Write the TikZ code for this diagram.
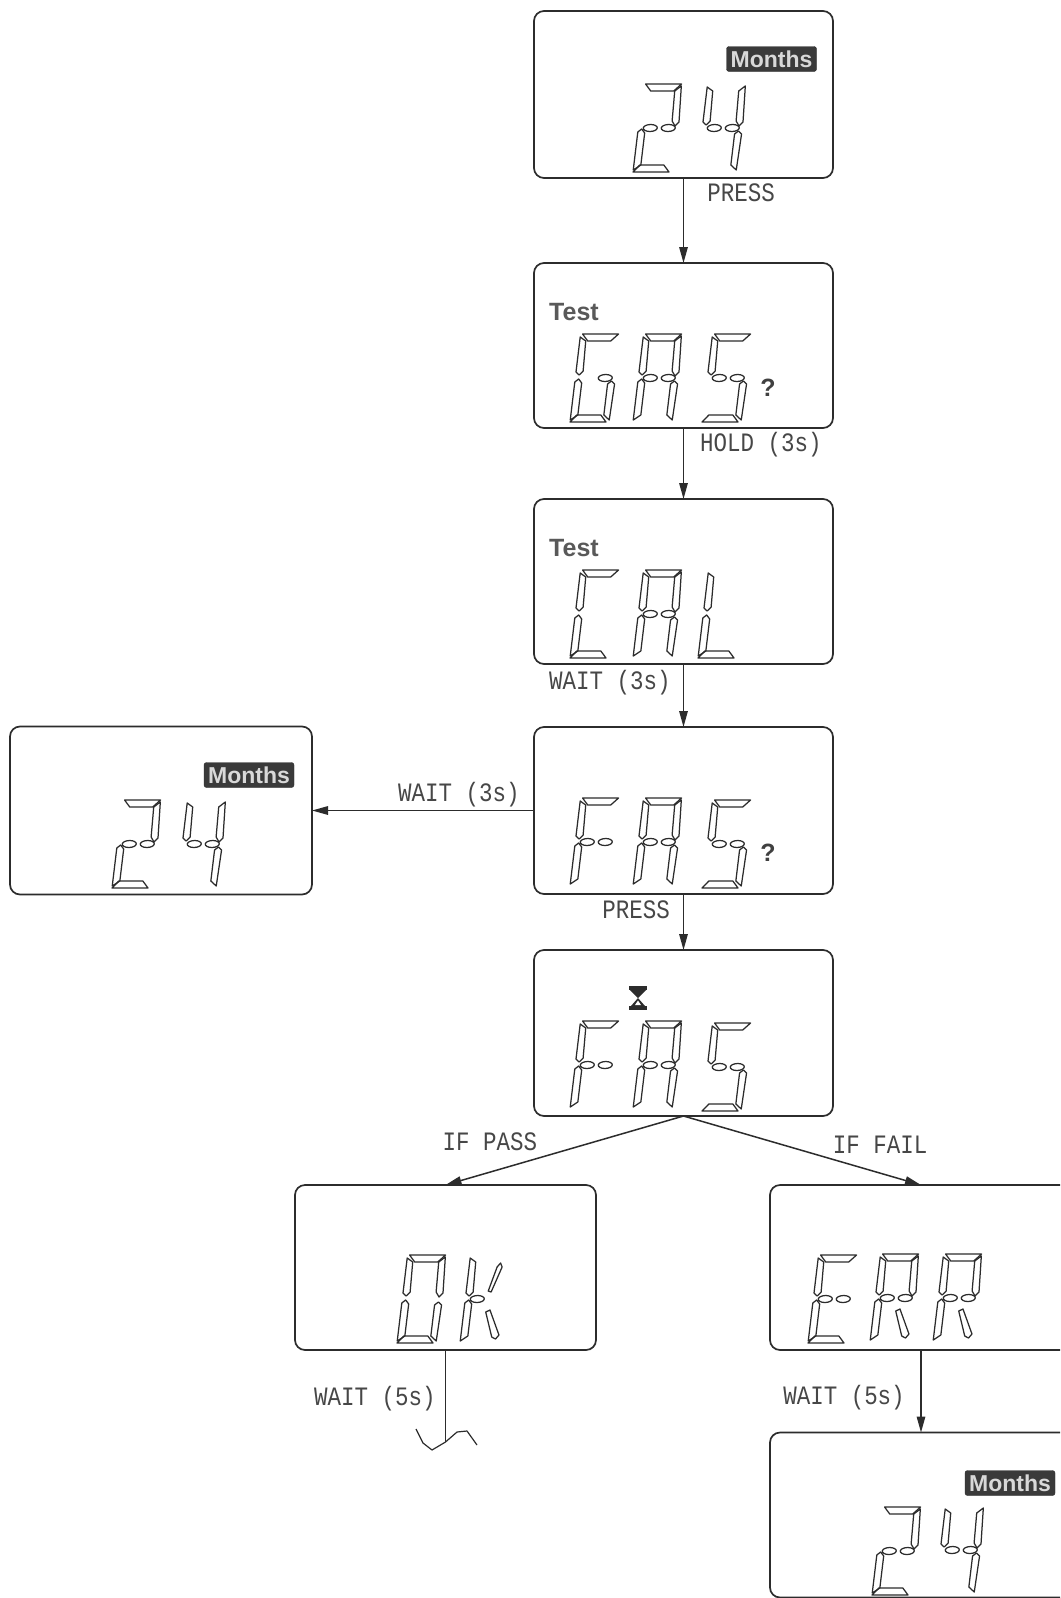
\documentclass[tikz,border=0pt]{standalone}
\usepackage{fontspec}
\usetikzlibrary{arrows.meta}
\newfontfamily\labfont{Liberation Mono}
\newfontfamily\badgefont{Liberation Sans}[BoldFont={Liberation Sans Bold}]
\definecolor{ink}{HTML}{2C2C2C}
\definecolor{badgebg}{HTML}{3A3A3A}
\definecolor{badgetx}{HTML}{D8D8D8}
\tikzset{
  lcdbox/.style={draw=ink,line width=1.7pt,rounded corners=10pt,inner sep=0pt,outer sep=0pt,fill=white},
  segm/.style={draw=ink,line width=1.25pt,line join=round},
  arr/.style={draw=ink,line width=1.5pt,-{Triangle[length=16pt,width=8.5pt]}},
  plainline/.style={draw=ink,line width=1.5pt},
  lab/.style={inner sep=0pt,text=black!72,transform shape,yscale=1.18,font=\labfont\fontsize{22.5}{24}\selectfont},
  months/.style={fill=badgebg,draw=ink,rounded corners=2.5pt,inner sep=0pt,minimum width=90pt,minimum height=25pt,text=badgetx,font=\badgefont\bfseries\fontsize{23}{24}\selectfont},
  testlab/.style={inner sep=0pt,text=black!65,font=\badgefont\bfseries\fontsize{25}{26}\selectfont},
  qmark/.style={inner sep=0pt,text=black!75,font=\badgefont\bfseries\fontsize{25}{26}\selectfont}
}
\def\sega{\draw[segm] (2,88)--(38,88)--(31,81)--(8,81)--cycle;}
\def\segb{\draw[segm] (38,86)--(40,50)--(36.5,46)--(33,51)--(32,81)--cycle;}
\def\segc{\draw[segm] (36.5,41)--(40,38)--(39,2)--(33,7)--(33,38)--cycle;}
\def\segd{\draw[segm] (0,0)--(36,0)--(30,7)--(6,7)--cycle;}
\def\sege{\draw[segm] (0,40)--(3.5,43)--(7,39)--(7,7)--(0,2)--cycle;}
\def\segf{\draw[segm] (0,85)--(6,81)--(7,51)--(3.5,47)--(0,50)--cycle;}
\def\segp{\draw[segm] (12,44) ellipse [x radius=7,y radius=3.5];}
\def\segq{\draw[segm] (30,44) ellipse [x radius=7,y radius=3.5];}
\def\segr{\draw[segm] (22,31)--(26,33)--(38,8)--(35,4)--(31,6)--cycle;}
\def\segs{\draw[segm] (22,52)--(25,51)--(33,76)--(31,80)--(28,76)--cycle;}
\newcommand\lcd[3]{%
  \begin{scope}[shift={(#1,-#2)},xslant=0.12]
    \foreach \s in {#3} {\csname seg\s\endcsname}
  \end{scope}}
\begin{document}
\begin{tikzpicture}[x=1pt,y=1pt]
\clip (0,-1598) rectangle (1060,0);
\fill[white] (0,-1598) rectangle (1060,0);
% boxes
\node[lcdbox,minimum width=299pt,minimum height=167pt] (b1) at (683.5,-94.5) {};
\node[lcdbox,minimum width=299pt,minimum height=165pt] (b2) at (683.5,-345.5) {};
\node[lcdbox,minimum width=299pt,minimum height=165pt] (b3) at (683.5,-581.5) {};
\node[lcdbox,minimum width=299pt,minimum height=167pt] (b4) at (683.5,-810.5) {};
\node[lcdbox,minimum width=299pt,minimum height=166pt] (b5) at (683.5,-1033) {};
\node[lcdbox,minimum width=302pt,minimum height=168pt] (bl) at (161,-810.5) {};
\node[lcdbox,minimum width=301pt,minimum height=165pt] (bok) at (445.5,-1267.5) {};
\node[lcdbox,minimum width=302pt,minimum height=165pt] (berr) at (921,-1267.5) {};
\node[lcdbox,minimum width=302pt,minimum height=165pt] (blast) at (921,-1515) {};
% digit groups
\lcd{633}{172}{a,b,p,q,e,d}
\lcd{697}{172}{f,p,q,b,c}
\lcd{570}{422}{a,f,e,d,c,q}
\lcd{633}{422}{a,f,b,p,q,e,c}
\lcd{702}{422}{a,f,p,q,c,d}
\lcd{570}{658}{a,f,e,d}
\lcd{633}{658}{a,f,b,p,q,e,c}
\lcd{698}{658}{f,e,d}
\lcd{570}{886}{a,f,p,q,e}
\lcd{633}{886}{a,f,b,p,q,e,c}
\lcd{702}{888}{a,f,p,q,c,d}
\lcd{570}{1109}{a,f,p,q,e}
\lcd{633}{1109}{a,f,b,p,q,e,c}
\lcd{702}{1111}{a,f,p,q,c,d}
\lcd{112}{888}{a,b,p,q,e,d}
\lcd{177}{888}{f,p,q,b,c}
\lcd{397}{1343}{a,b,c,d,e,f}
\lcd{460}{1343}{f,e,p,s,r}
\lcd{808}{1343}{a,f,p,q,e,d}
\lcd{870}{1342}{a,f,b,p,q,e,r}
\lcd{933}{1342}{a,f,b,p,q,e,r}
\lcd{872}{1595}{a,b,p,q,e,d}
\lcd{935}{1594}{f,p,q,b,c}
% badges
\node[months] (m1) at (771.5,-59) {Months};
\node[months] (m2) at (249,-775) {Months};
\node[months] (m3) at (1010,-1483) {Months};
\node[testlab] (t1) at (574,-312) {Test};
\node[testlab] (t2) at (574,-548) {Test};
\node[qmark] (q1) at (768,-388) {?};
\node[qmark] (q2) at (768,-853) {?};
% hourglass
\fill[ink] (629,-986) rectangle (647,-990);
\fill[ink] (630,-990) -- (646,-990) -- (638,-998) -- cycle;
\fill[ink] (629,-1006) rectangle (647,-1010);
\fill[ink] (638,-998) -- (631,-1006) -- (645,-1006) -- cycle;
\fill[white] (638,-1000.5) -- (635,-1005) -- (641,-1005) -- cycle;
% connectors
\draw[arr] (b1.south) -- (b2.north);
\draw[arr] (b2.south) -- (b3.north);
\draw[arr] (b3.south) -- (b4.north);
\draw[arr] (b4.south) -- (b5.north);
\draw[arr] (b4.west) -- (bl.east);
\draw[arr] (b5.south) -- (bok.north);
\draw[arr] (b5.south) -- (berr.north);
\draw[arr] (berr.south) -- (blast.north);
\coordinate (brk) at (445.5,-1442);
\draw[plainline] (bok.south) -- (brk);
\draw[plainline,line width=1.2pt,line join=round] (416,-1429) -- (423,-1443) -- (432,-1450) -- (brk) -- (457,-1432) -- (467,-1431) -- (477,-1445);
% labels
\node[lab] (l1) at (741,-193) {PRESS};
\node[lab] (l2) at (761,-445) {HOLD (3s)};
\node[lab] (l3) at (610,-683) {WAIT (3s)};
\node[lab] (l4) at (459,-795) {WAIT (3s)};
\node[lab] (l5) at (636,-910) {PRESS};
\node[lab] (l6) at (490,-1142) {IF PASS};
\node[lab] (l7) at (880,-1145) {IF FAIL};
\node[lab] (l8) at (375,-1399) {WAIT (5s)};
\node[lab] (l9) at (844,-1398) {WAIT (5s)};
\end{tikzpicture}
\end{document}
